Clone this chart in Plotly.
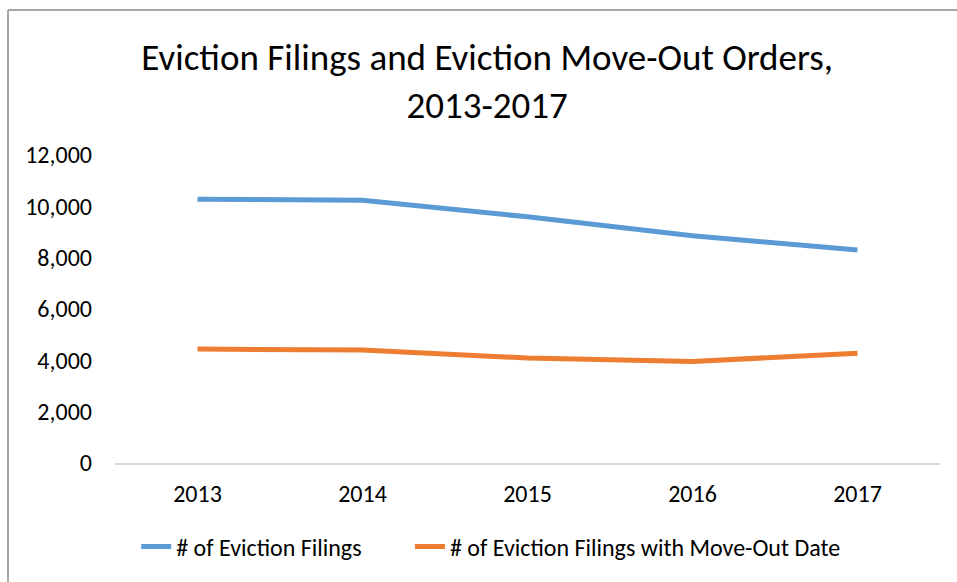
import plotly.graph_objects as go

years = ["2013", "2014", "2015", "2016", "2017"]
filings = [10280, 10240, 9590, 8850, 8300]
move_out = [4440, 4400, 4090, 3955, 4280]
y_ticks = [0, 2000, 4000, 6000, 8000, 10000, 12000]
y_tick_text = ["0", "2,000", "4,000", "6,000", "8,000", "10,000", "12,000"]
series_names = ["# of Eviction Filings", "# of Eviction Filings with Move-Out Date"]

FONT = "Carlito, Lato, Open Sans, Liberation Sans, sans-serif"

fig = go.Figure()
fig.add_trace(go.Scatter(x=years, y=filings, mode="lines", name=series_names[0] + "\u00a0" * 8,
                         line=dict(color="#5B9BD5", width=5)))
fig.add_trace(go.Scatter(x=years, y=move_out, mode="lines", name=series_names[1],
                         line=dict(color="#ED7D31", width=5)))

L, R, T, B = 115, 17, 155, 119
W, H = 957, 582
ph = H - T - B
pw = W - L - R
bx = (8 - L) / pw
by = (H - B - 10) / ph

fig.update_layout(
    width=W, height=H,
    margin=dict(l=L, r=R, t=T, b=B),
    paper_bgcolor="white", plot_bgcolor="white",
    font=dict(family=FONT, color="#000000", size=24),
    title=dict(text="Eviction Filings and Eviction Move-Out Orders,<br>2013-2017",
               x=0.509, xref="container", xanchor="center",
               y=1 - 69.5 / H, yref="container", yanchor="middle",
               font=dict(size=37, family=FONT, color="#000000")),
    xaxis=dict(type="category", range=[-0.5, 4.5], showgrid=False, showline=True,
               linecolor="#d9d9d9", linewidth=2,
               ticks="", ticklabelstandoff=8, tickfont=dict(size=24), fixedrange=True),
    yaxis=dict(range=[0, 12000], tickvals=y_ticks, ticktext=y_tick_text, showgrid=False,
               zeroline=False, showline=False, ticks="", ticklabelstandoff=22,
               tickfont=dict(size=24), fixedrange=True),
    legend=dict(orientation="h", x=0.456, xanchor="center", y=-(547 - (H - B)) / ph,
                yanchor="middle", font=dict(size=24), bgcolor="rgba(0,0,0,0)"),
    showlegend=True,
    shapes=[
        dict(type="line", xref="paper", yref="paper", x0=bx, x1=bx, y0=-0.6, y1=by,
             line=dict(color="#a6a6a6", width=2)),
        dict(type="line", xref="paper", yref="paper", x0=bx, x1=1.1, y0=by, y1=by,
             line=dict(color="#a6a6a6", width=2)),
    ],
)

fig.write_html("out.html", config={"displayModeBar": False},
               post_script="document.body.style.margin='0';document.body.style.overflow='hidden';")
